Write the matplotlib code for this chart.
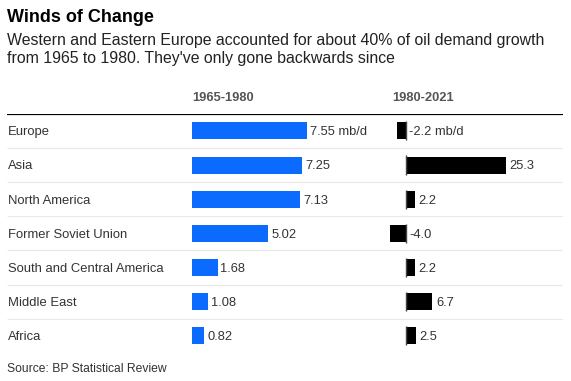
import matplotlib
matplotlib.use("Agg")
from matplotlib import pyplot as plt

plt.rcParams['font.family'] = ['Liberation Sans', 'DejaVu Sans']

# data (mb/d)
regions = ['Europe', 'Asia', 'North America', 'Former Soviet Union',
           'South and Central America', 'Middle East', 'Africa']
growth_1965_1980 = [7.55, 7.25, 7.13, 5.02, 1.68, 1.08, 0.82]
growth_1980_2021 = [-2.2, 25.3, 2.2, -4.0, 2.2, 6.7, 2.5]
labels_1965_1980 = ['7.55 mb/d', '7.25', '7.13', '5.02', '1.68', '1.08', '0.82']
labels_1980_2021 = ['-2.2 mb/d', '25.3', '2.2', '-4.0', '2.2', '6.7', '2.5']

W, H = 571, 381
fig = plt.figure(figsize=(W / 100, H / 100), dpi=100)
fig.patch.set_facecolor('white')

def px(x, y):
    return x / W, 1 - y / H

top, bottom = 113.8, 353.0
ybot = (H - bottom) / H
yh = (bottom - top) / H
n = len(regions)
rows = list(range(n))
txt = '#333333'

# background axis for the rule lines and row names
axbg = fig.add_axes([7 / W, ybot, (563 - 7) / W, yh])
axbg.set_xlim(0, 1)
axbg.set_ylim(n - 0.5, -0.5)
axbg.axis('off')
axbg.hlines([i + 0.5 for i in rows], 0, 1, color='#e8e8e8', lw=0.8)
axbg.hlines(-0.5, 0, 1, color='black', lw=1.6)
for i, r in enumerate(regions):
    axbg.text(0.002, i + 0.13, r, fontsize=9.4, color=txt, va='baseline', ha='left')

blue = '#0B6BFF'
ax1 = fig.add_axes([192 / W, ybot, 188 / W, yh])
ax1.barh(rows, growth_1965_1980, height=0.5, color=blue)
ax1.set_xlim(0, 188 / 15.2)
ax1.set_ylim(n - 0.5, -0.5)
ax1.axis('off')
ax1.patch.set_alpha(0)
for i, (v, lab) in enumerate(zip(growth_1965_1980, labels_1965_1980)):
    ax1.annotate(lab, (v, i + 0.13), xytext=(2, 0), textcoords='offset points',
                 fontsize=9.3, color=txt, va='baseline', ha='left')

ax2 = fig.add_axes([380 / W, ybot, 183 / W, yh])
ax2.barh(rows, growth_1980_2021, height=0.5, color='black')
ax2.vlines([0] * n, [i - 0.28 for i in rows], [i + 0.28 for i in rows], color='#444444', lw=1)
ax2.set_xlim(-26 / 3.95, 157 / 3.95)
ax2.set_ylim(n - 0.5, -0.5)
ax2.axis('off')
ax2.patch.set_alpha(0)
for i, (v, lab) in enumerate(zip(growth_1980_2021, labels_1980_2021)):
    ax2.annotate(lab, (max(v, 0), i + 0.13), xytext=(2.5, 0), textcoords='offset points',
                 fontsize=9.3, color=txt, va='baseline', ha='left')

fig.text(*px(7, 22), 'Winds of Change', fontsize=13, fontweight='bold', color='black')
fig.text(*px(7, 44.5), 'Western and Eastern Europe accounted for about 40% of oil demand growth',
         fontsize=11.45, color='#222222')
fig.text(*px(7, 63), "from 1965 to 1980. They've only gone backwards since",
         fontsize=11.45, color='#222222')
fig.text(*px(192, 101), '1965-1980', fontsize=9.3, fontweight='bold', color='#555555')
fig.text(*px(392, 101), '1980-2021', fontsize=9.3, fontweight='bold', color='#555555')
fig.text(*px(7, 371.5), 'Source: BP Statistical Review', fontsize=8.75, color=txt)

fig.savefig('out.png', dpi=100)
